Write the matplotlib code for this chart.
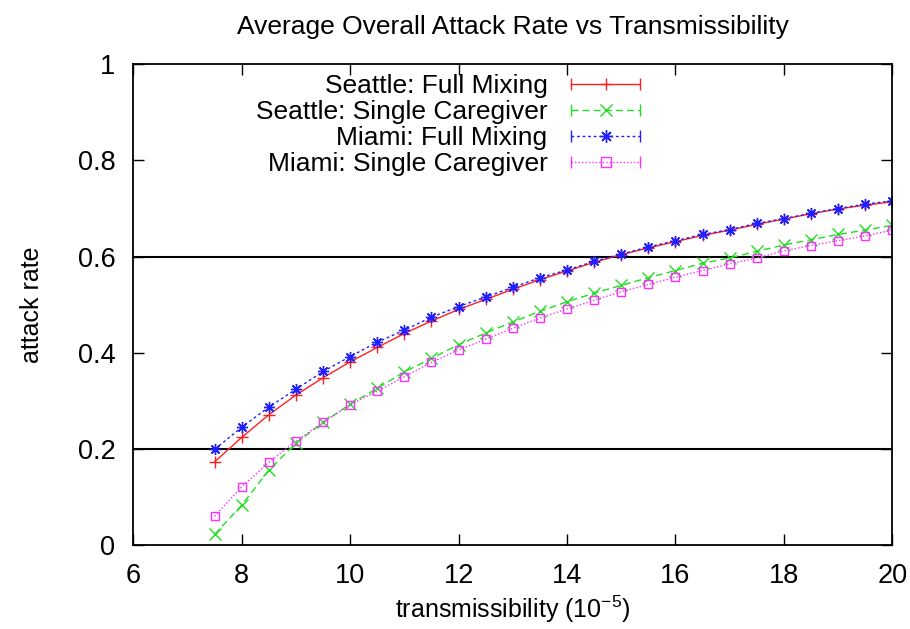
import matplotlib
matplotlib.use("Agg")
import matplotlib.pyplot as plt
from matplotlib.lines import Line2D
from matplotlib.legend_handler import HandlerLine2D, HandlerTuple

plt.rcParams['font.family'] = ['Liberation Sans', 'DejaVu Sans']

transmissibility = [7.5, 8.0, 8.5, 9.0, 9.5, 10.0, 10.5, 11.0, 11.5, 12.0, 12.5, 13.0, 13.5,
                    14.0, 14.5, 15.0, 15.5, 16.0, 16.5, 17.0, 17.5, 18.0, 18.5, 19.0, 19.5, 20.0]

seattle_full = [0.173, 0.224, 0.271, 0.312, 0.348, 0.381, 0.411, 0.440, 0.466, 0.490, 0.511, 0.532, 0.552,
                0.570, 0.588, 0.604, 0.618, 0.631, 0.644, 0.655, 0.667, 0.678, 0.689, 0.699, 0.707, 0.714]
seattle_single = [0.022, 0.083, 0.156, 0.212, 0.255, 0.293, 0.326, 0.360, 0.388, 0.417, 0.441, 0.464, 0.486,
                  0.506, 0.524, 0.540, 0.556, 0.571, 0.586, 0.597, 0.611, 0.624, 0.635, 0.646, 0.655, 0.665]
miami_full = [0.199, 0.245, 0.287, 0.324, 0.361, 0.392, 0.422, 0.447, 0.474, 0.496, 0.516, 0.536, 0.556,
              0.572, 0.590, 0.605, 0.620, 0.633, 0.646, 0.656, 0.669, 0.679, 0.690, 0.700, 0.709, 0.716]
miami_single = [0.060, 0.121, 0.172, 0.216, 0.255, 0.292, 0.320, 0.350, 0.380, 0.406, 0.428, 0.451, 0.472,
                0.491, 0.509, 0.527, 0.542, 0.557, 0.571, 0.585, 0.597, 0.612, 0.623, 0.633, 0.643, 0.655]

labels = ["Seattle: Full Mixing", "Seattle: Single Caregiver",
          "Miami: Full Mixing", "Miami: Single Caregiver"]
colors = ["#ff2020", "#22dd22", "#2020ff", "#ff30ff"]
markers = ["+", "x", (8, 2, 0), "s"]
linestyles = ["-", (0, (5, 3)), (0, (2, 2)), (0, (1, 1.5))]
ref_lines = [0.2, 0.6]

fig = plt.figure(figsize=(9.1, 6.29), dpi=100)
ax = fig.add_axes([0.1465, 0.1335, 0.834, 0.7643])

series = [seattle_full, seattle_single, miami_full, miami_single]
handles = []
hmap = {}
for ys, lab, c, m, ls in zip(series, labels, colors, markers, linestyles):
    mfc = 'none' if m == 's' else c
    ms = 6 if m == 's' else 8
    ax.plot(transmissibility, ys, color=c, linestyle=ls, linewidth=1.0,
            marker=m, markersize=ms, markerfacecolor=mfc, markeredgecolor=c,
            markeredgewidth=1.0)
    cap = Line2D([], [], color=c, linestyle=ls, linewidth=1.0, marker='|', markersize=9,
                 markeredgewidth=1.0)
    mid = Line2D([], [], color=c, linestyle='none', marker=m, markersize=ms + 1,
                 markerfacecolor=mfc, markeredgecolor=c, markeredgewidth=1.0)
    hmap[cap] = HandlerLine2D(numpoints=2)
    handles.append((cap, mid))

for yv in ref_lines:
    ax.axhline(yv, color='black', linewidth=1.5, zorder=0)

ax.set_xlim(6, 20)
ax.set_ylim(0, 1)
ax.set_xticks([6, 8, 10, 12, 14, 16, 18, 20])
ax.set_yticks([0, 0.2, 0.4, 0.6, 0.8, 1.0])
ax.set_yticklabels(["0", "0.2", "0.4", "0.6", "0.8", "1"])
ax.tick_params(direction='in', top=True, right=True, length=8, width=1,
               labelsize=19.5, pad=13)
for s in ax.spines.values():
    s.set_linewidth(1.3)

ax.set_xlabel("transmissibility (10$^{\\mathregular{-5}}$)", fontsize=18, labelpad=3)
ax.set_ylabel("attack rate", fontsize=18, labelpad=24)
ax.set_title("Average Overall Attack Rate vs Transmissibility", fontsize=19, pad=22)

hmap[tuple] = HandlerTuple(ndivide=1)
leg = ax.legend(handles, labels, handler_map=hmap, loc='upper right',
                bbox_to_anchor=(0.678, 0.979), frameon=False, markerfirst=False,
                fontsize=19, handlelength=3.2, handletextpad=0.6, labelspacing=0.07,
                borderaxespad=0.0, borderpad=0.0)
for t in leg.get_texts():
    t.set_ha('right')
leg._legend_box.align = "right"

fig.savefig("out.png", dpi=100)
